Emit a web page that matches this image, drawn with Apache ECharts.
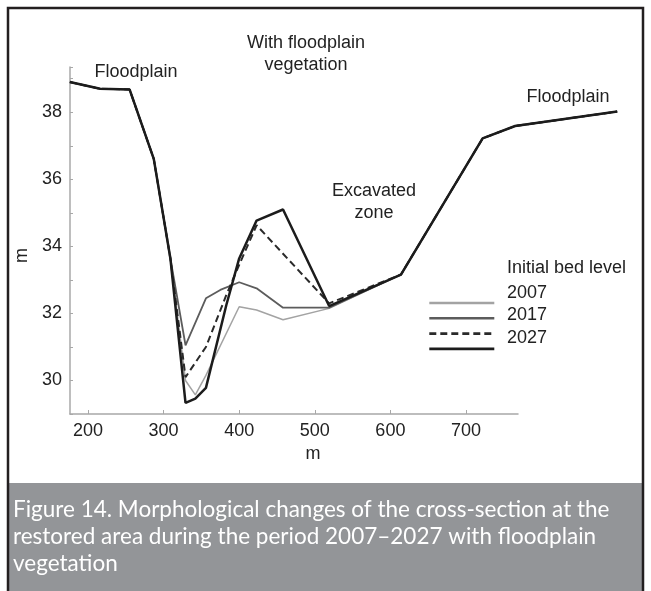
<!DOCTYPE html>
<html>
<head>
<meta charset="utf-8">
<script src="https://cdn.jsdelivr.net/npm/echarts@6/dist/echarts.min.js"></script>
<style>
html,body{margin:0;padding:0;background:#fff;}
#chart{width:651px;height:591px;}
</style>
</head>
<body>
<div id="chart"></div>
<script>
// Cross-section distance (m) and bed levels (m)
const distances = [176, 216, 255, 287, 309, 329, 342, 356, 375, 383, 400, 423, 458, 519, 614, 722, 765, 900];
const initialBed = [38.90, 38.70, 38.68, 36.61, 33.64, 30.00, 29.57, 30.15, null, null, 32.20, 32.10, 31.81, 32.15, 33.16, 37.22, 37.59, 38.02];
const level2007 = [38.90, 38.70, 38.68, 36.61, 33.64, 31.05, null, 32.45, 32.70, null, 32.93, 32.75, 32.17, 32.17, 33.16, 37.22, 37.59, 38.02];
const level2017 = [38.90, 38.70, 38.68, 36.61, 33.64, 30.10, null, 31.00, null, 32.55, 33.45, 34.63, null, 32.30, 33.16, 37.22, 37.59, 38.02];
const level2027 = [38.90, 38.70, 38.68, 36.61, 33.64, 29.33, 29.46, 29.78, null, 32.25, 33.64, 34.77, 35.10, 32.22, 33.16, 37.22, 37.59, 38.02];
const seriesNames = ['Initial bed level', '2007', '2017', '2027'];
const xAxisTitle = 'm';
const yAxisTitle = 'm';
const captionLines = [
  'Figure 14. Morphological changes of the cross-section at the',
  'restored area during the period 2007\u20132027 with floodplain',
  'vegetation'
];
const annoFloodLeft = 'Floodplain';
const annoVeg = ['With floodplain', 'vegetation'];
const annoExcav = ['Excavated', 'zone'];
const annoFloodRight = 'Floodplain';

// axis extents
const X_MIN = 176.2, X_AXIS_MAX = 768.8, X_DATA_MAX = 900;
const Y_MIN = 29, Y_MAX = 39.35;

const FONT = 'Liberation Sans, Arial, sans-serif';
const pairs = vals => distances.map((d, i) => [d, vals[i]]).filter(p => p[1] !== null);

const styles = [
  {color: '#a3a3a3', width: 1.5, type: 'solid'},
  {color: '#5c5c5c', width: 1.8, type: 'solid'},
  {color: '#2a2a2a', width: 2, type: [7, 4]},
  {color: '#1c1c1c', width: 2.5, type: 'solid'}
];
const allVals = [initialBed, level2007, level2017, level2027];

const chart = echarts.init(document.getElementById('chart'), null, {renderer: 'canvas'});

function txt(x, y, text, opts) {
  return {
    type: 'text', x: x, y: y, silent: true,
    style: Object.assign({text: text, font: '18px ' + FONT, fill: '#222', align: 'center', verticalAlign: 'middle'}, opts || {})
  };
}

const graphics = [
  {type: 'rect', shape: {x: 8, y: 8, width: 635, height: 600}, style: {fill: 'none', stroke: '#231f20', lineWidth: 2.5}, silent: true, z: 100},
  {type: 'rect', shape: {x: 9, y: 483, width: 633, height: 110}, style: {fill: '#939598'}, silent: true, z: 99},
  txt(136, 72, annoFloodLeft),
  txt(306, 43, annoVeg[0]),
  txt(306, 65, annoVeg[1]),
  txt(374, 191, annoExcav[0]),
  txt(374, 213, annoExcav[1]),
  txt(568, 97, annoFloodRight),
  txt(507, 268, seriesNames[0], {align: 'left'}),
  txt(507, 293, seriesNames[1], {align: 'left'}),
  txt(507, 315, seriesNames[2], {align: 'left'}),
  txt(507, 338, seriesNames[3], {align: 'left'})
];
captionLines.forEach((line, i) => {
  graphics.push({type: 'text', x: 13, y: 510 + i * 26.7, silent: true, z: 101,
    style: {text: line, font: '22.5px Lato, "Open Sans", sans-serif', fill: '#ffffff', align: 'left', verticalAlign: 'middle'}});
});

const GRID_LEFT = 70, GRID_TOP = 67, GRID_H = 347, GRID_W = 448;
const pxPerM = GRID_W / (X_AXIS_MAX - X_MIN);

chart.setOption({
  animation: false,
  backgroundColor: '#ffffff',
  grid: [
    {left: GRID_LEFT, top: GRID_TOP, width: GRID_W, height: GRID_H},
    {left: GRID_LEFT, top: GRID_TOP, width: (X_DATA_MAX - X_MIN) * pxPerM, height: GRID_H}
  ],
  legend: {
    orient: 'vertical', left: 423, top: 291,
    itemWidth: 65, itemHeight: 14, itemGap: 2.7,
    data: seriesNames,
    formatter: () => '',
    textStyle: {fontSize: 10},
    itemStyle: {opacity: 0},
    lineStyle: {width: 2.6},
    selectedMode: false
  },
  xAxis: [{
    gridIndex: 0, type: 'value', min: X_MIN, max: X_AXIS_MAX, splitNumber: 6,
    name: xAxisTitle, nameLocation: 'middle', nameGap: 30,
    nameTextStyle: {fontSize: 18, fontFamily: FONT, color: '#222', padding: [0, 0, 0, 38]},
    axisLine: {show: true, lineStyle: {color: '#a8a8a8', width: 1.5}},
    axisTick: {show: true, inside: true, length: 4, lineStyle: {color: '#a8a8a8'}},
    axisLabel: {fontSize: 18, fontFamily: FONT, color: '#222', margin: 8, showMinLabel: false, showMaxLabel: false},
    splitLine: {show: false}
  }, {
    gridIndex: 1, type: 'value', min: X_MIN, max: X_DATA_MAX, show: false,
    splitLine: {show: false}
  }],
  yAxis: [{
    gridIndex: 0, type: 'value', min: Y_MIN, max: Y_MAX, interval: 1,
    name: yAxisTitle, nameLocation: 'middle', nameGap: 29,
    nameTextStyle: {fontSize: 18, fontFamily: FONT, color: '#222', padding: [0, 30, 0, 0]},
    axisLine: {show: true, lineStyle: {color: '#a8a8a8', width: 1.5}},
    axisTick: {show: true, inside: true, length: 3, lineStyle: {color: '#a8a8a8'}},
    axisLabel: {fontSize: 18, fontFamily: FONT, color: '#222', margin: 8,
      formatter: v => (Math.abs(v - Math.round(v)) < 1e-6 && Math.round(v) % 2 === 0) ? String(Math.round(v)) : ''},
    splitLine: {show: false}
  }, {
    gridIndex: 1, type: 'value', min: Y_MIN, max: Y_MAX, show: false,
    splitLine: {show: false}
  }],
  series: seriesNames.map((name, i) => ({
    name: name, type: 'line', data: pairs(allVals[i]),
    xAxisIndex: 1, yAxisIndex: 1,
    symbol: 'none', showSymbol: false, clip: false, smooth: false,
    lineStyle: styles[i], itemStyle: {color: styles[i].color},
    z: 2 + (i === 2 ? 3 : i)
  })),
  graphic: graphics
});
</script>
</body>
</html>
